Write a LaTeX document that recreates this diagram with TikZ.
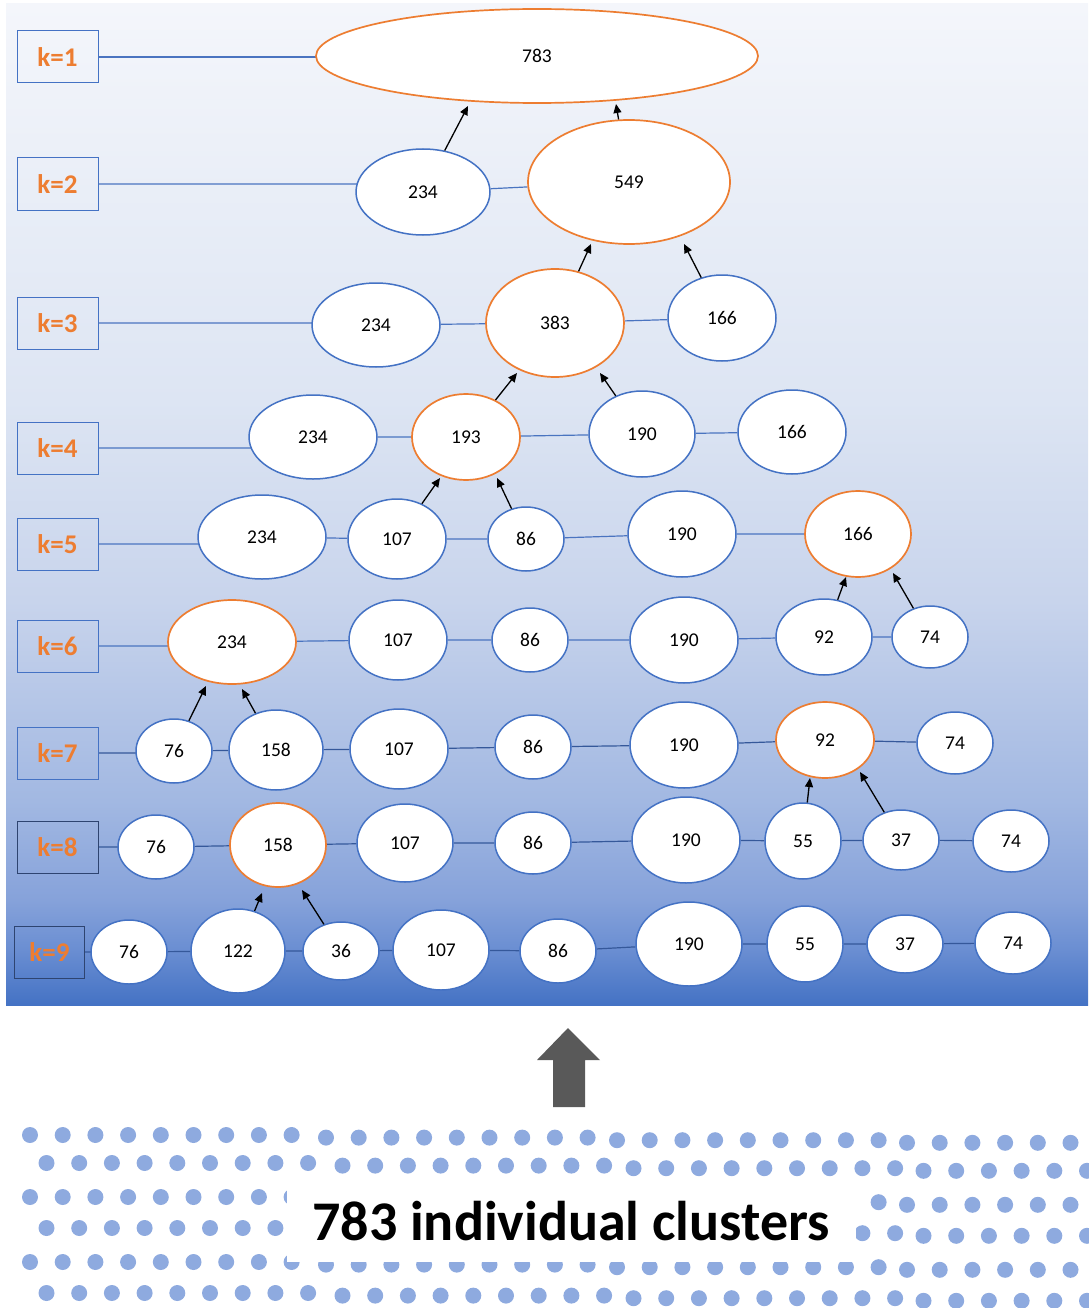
\documentclass[tikz,border=0pt]{standalone}
\usepackage{fontspec}
\setmainfont{Carlito}
\usetikzlibrary{shapes.geometric,arrows.meta}
\pgfdeclarelayer{back}
\pgfdeclarelayer{links}
\pgfsetlayers{back,links,main}
\definecolor{nodeblue}{HTML}{4472C4}
\definecolor{nodeorange}{HTML}{ED7D31}
\definecolor{korange}{HTML}{ED7D31}
\definecolor{linkblue}{HTML}{4A74C0}
\definecolor{linkdark}{HTML}{35589A}
\definecolor{boxdark}{HTML}{2E4470}
\definecolor{dotblue}{HTML}{8EAADF}
\definecolor{arrowgray}{HTML}{595959}
\definecolor{cA}{HTML}{4472C4}
\definecolor{cB}{HTML}{6A8ED2}
\definecolor{cC}{HTML}{86A2DA}
\definecolor{cD}{HTML}{A2B8E2}
\definecolor{cE}{HTML}{C8D4EC}
\definecolor{cF}{HTML}{DDE5F3}
\definecolor{cG}{HTML}{F4F6FB}
\pgfdeclareverticalshading{bgshade}{100bp}{color(0bp)=(cA); color(25bp)=(cA); color(27.75bp)=(cB); color(30.25bp)=(cC); color(35.2bp)=(cD); color(45.2bp)=(cE); color(55.2bp)=(cF); color(75bp)=(cG); color(100bp)=(cG)}
\tikzset{
  cl/.style={ellipse, draw=nodeblue, line width=1.5pt, fill=white, inner sep=0pt,
    font=\fontsize{19.5}{19.5}\selectfont},
  mg/.style={cl, draw=nodeorange, line width=1.7pt},
  sz/.style 2 args={minimum width=#1pt, minimum height=#2pt},
  kbox/.style={draw=nodeblue, line width=1pt, minimum width=81pt, minimum height=52pt,
    inner sep=0pt, text=korange, font=\fontsize{27}{27}\selectfont\bfseries},
  link/.style={draw=linkblue, line width=1.2pt},
  linkd/.style={draw=linkdark, line width=1.2pt},
  arr/.style={-{Triangle[length=9pt,width=8pt]}, line width=1.3pt, draw=black}
}
\begin{document}
\begin{tikzpicture}[x=1pt,y=-1pt]
\useasboundingbox (0,0) rectangle (1088,1308);
\begin{pgfonlayer}{back}
\shade[shading=bgshade] (6,4) rectangle (1088,1005);
\end{pgfonlayer}

% label boxes
\node[kbox] (k1) at (57.5,57) {k=1};
\node[kbox] (k2) at (57.5,184) {k=2};
\node[kbox] (k3) at (57.5,323) {k=3};
\node[kbox] (k4) at (57.5,448) {k=4};
\node[kbox] (k5) at (57.5,544) {k=5};
\node[kbox] (k6) at (57.5,646) {k=6};
\node[kbox] (k7) at (57.5,753) {k=7};
\node[kbox, draw=boxdark] (k8) at (57.5,847) {k=8};
\node[kbox, draw=boxdark, minimum width=70pt] (k9) at (49.5,952) {k=9};

% row 1
\node[mg, sz={442}{94}] (n1) at (537,56) {783};
% row 2
\node[cl, sz={134}{86}] (n2a) at (423,192) {234};
\node[mg, sz={202}{124}] (n2b) at (629,182) {549};
% row 3
\node[cl, sz={128}{84}] (n3a) at (376,325) {234};
\node[mg, sz={138}{108}] (n3b) at (555,323) {383};
\node[cl, sz={108}{86}] (n3c) at (722,318) {166};
% row 4
\node[cl, sz={128}{84}] (n4a) at (313,437) {234};
\node[mg, sz={108}{86}] (n4b) at (466,437) {193};
\node[cl, sz={106}{86}] (n4c) at (642,434) {190};
\node[cl, sz={108}{84}] (n4d) at (792,432) {166};
% row 5
\node[cl, sz={128}{84}] (n5a) at (262,537) {234};
\node[cl, sz={98}{80}] (n5b) at (397,539) {107};
\node[cl, sz={76}{64}] (n5c) at (526,539) {86};
\node[cl, sz={108}{86}] (n5d) at (682,534) {190};
\node[mg, sz={106}{86}] (n5e) at (858,534) {166};
% row 6
\node[mg, sz={128}{84}] (n6a) at (232,642) {234};
\node[cl, sz={98}{80}] (n6b) at (398,640) {107};
\node[cl, sz={76}{64}] (n6c) at (530,640) {86};
\node[cl, sz={108}{86}] (n6d) at (684,640) {190};
\node[cl, sz={96}{76}] (n6e) at (824,637) {92};
\node[cl, sz={76}{62}] (n6f) at (930,637) {74};
% row 7
\node[cl, sz={76}{64}] (n7a) at (174,751) {76};
\node[cl, sz={94}{80}] (n7b) at (276,750) {158};
\node[cl, sz={98}{80}] (n7c) at (399,749) {107};
\node[cl, sz={76}{64}] (n7d) at (533,747) {86};
\node[cl, sz={108}{86}] (n7e) at (684,745) {190};
\node[mg, sz={98}{76}] (n7f) at (825,740) {92};
\node[cl, sz={76}{62}] (n7g) at (955,743) {74};
% row 8
\node[cl, sz={76}{64}] (n8a) at (156,847) {76};
\node[mg, sz={96}{84}] (n8b) at (278,845) {158};
\node[cl, sz={96}{78}] (n8c) at (405,843) {107};
\node[cl, sz={76}{62}] (n8d) at (533,843) {86};
\node[cl, sz={108}{86}] (n8e) at (686,840) {190};
\node[cl, sz={76}{76}] (n8f) at (803,841) {55};
\node[cl, sz={76}{60}] (n8g) at (901,840) {37};
\node[cl, sz={76}{62}] (n8h) at (1011,841) {74};
% row 9
\node[cl, sz={76}{64}] (n9a) at (129,952) {76};
\node[cl, sz={94}{84}] (n9b) at (238,951) {122};
\node[cl, sz={76}{58}] (n9c) at (341,951) {36};
\node[cl, sz={96}{80}] (n9d) at (441,950) {107};
\node[cl, sz={76}{64}] (n9e) at (558,951) {86};
\node[cl, sz={106}{84}] (n9f) at (689,944) {190};
\node[cl, sz={76}{76}] (n9g) at (805,944) {55};
\node[cl, sz={76}{58}] (n9h) at (905,944) {37};
\node[cl, sz={76}{62}] (n9i) at (1013,943) {74};

% row links (behind the nodes)
\begin{pgfonlayer}{links}
\draw[link] (k1.east) -- (k1.east -| n1.center);
\draw[link] (k2.east) -- (k2.east -| n2a.center) (n2a) -- (n2b);
\draw[link] (k3.east) -- (k3.east -| n3a.center) (n3a) -- (n3b) (n3b) -- (n3c);
\draw[link] (k4.east) -- (k4.east -| n4a.center) (n4a) -- (n4b) (n4b) -- (n4c) (n4c) -- (n4d);
\draw[link] (k5.east) -- (k5.east -| n5a.center) (n5a) -- (n5b) (n5b) -- (n5c) (n5c) -- (n5d) (n5d) -- (n5e);
\draw[link] (k6.east) -- (k6.east -| n6a.center) (n6a) -- (n6b) (n6b) -- (n6c) (n6c) -- (n6d) (n6d) -- (n6e) (n6e) -- (n6f);
\draw[linkd] (k7.east) -- (k7.east -| n7a.center) (n7a) -- (n7b) (n7b) -- (n7c) (n7c) -- (n7d) (n7d) -- (n7e) (n7e) -- (n7f) (n7f) -- (n7g);
\draw[linkd] (k8.east) -- (k8.east -| n8a.center) (n8a) -- (n8b) (n8b) -- (n8c) (n8c) -- (n8d) (n8d) -- (n8e) (n8e) -- (n8f) (n8f) -- (n8g) (n8g) -- (n8h);
\draw[linkd] (k9.east) -- (k9.east -| n9a.center) (n9a) -- (n9b) (n9b) -- (n9c) (n9c) -- (n9d) (n9d) -- (n9e) (n9e) -- (n9f) (n9f) -- (n9g) (n9g) -- (n9h) (n9h) -- (n9i);
\end{pgfonlayer}

% merge arrows
\coordinate (t1) at (468,106);
\coordinate (t2) at (616,104);
\coordinate (t3) at (591,244);
\coordinate (t4) at (684,244);
\coordinate (t5) at (517,373);
\coordinate (t6) at (600,373);
\coordinate (t7) at (440,478);
\coordinate (t8) at (497,478);
\coordinate (t9) at (846,577);
\coordinate (t10) at (893,573);
\coordinate (t11) at (206,686);
\coordinate (t12) at (242,689);
\coordinate (t13) at (810,778);
\coordinate (t14) at (860,772);
\coordinate (t15) at (262,893);
\coordinate (t16) at (302,890);
\draw[arr] (n2a) -- (t1);
\draw[arr] (n2b) -- (t2);
\draw[arr] (n3b) -- (t3);
\draw[arr] (n3c) -- (t4);
\draw[arr] (n4b) -- (t5);
\draw[arr] (n4c) -- (t6);
\draw[arr] (n5b) -- (t7);
\draw[arr] (n5c) -- (t8);
\draw[arr] (n6e) -- (t9);
\draw[arr] (n6f) -- (t10);
\draw[arr] (n7a) -- (t11);
\draw[arr] (n7b) -- (t12);
\draw[arr] (n8f) -- (t13);
\draw[arr] (n8g) -- (t14);
\draw[arr] (n9b) -- (t15);
\draw[arr] (n9c) -- (t16);

% big block arrow
\fill[arrowgray] (553,1107) -- (553,1060) -- (537,1060) -- (568,1028) -- (600,1060) -- (585,1060) -- (585,1107) -- cycle;

% dots
\foreach \b/\xs in {0/30,1/326,2/617,3/907}{
  \foreach \yy/\xo in {1135/0,1163/16.5,1197/0,1228/16.5,1262/0,1293/16.5}{
    \foreach \i in {0,...,8}{
      \fill[dotblue] ({\xs+\xo+\i*32.7},{\yy+\b*2.6}) circle[radius=8pt];
    }
  }
}
\fill[white] (287,1188) rectangle (856,1262);
\node[anchor=base, inner sep=0pt, font=\fontsize{56}{56}\selectfont\bfseries] (title) at (571,1240) {783 individual clusters};
\end{tikzpicture}
\end{document}
